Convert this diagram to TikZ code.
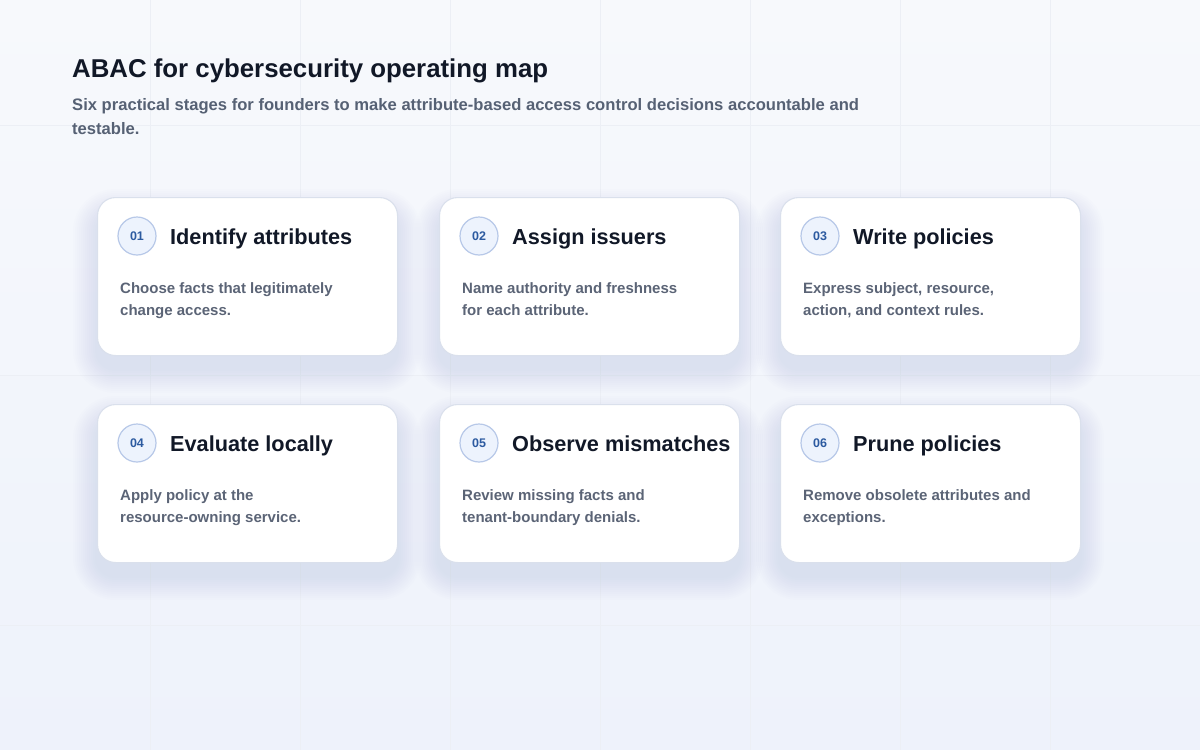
\documentclass[tikz,border=0pt]{standalone}
\usepackage{fontspec}
\setmainfont{Liberation Sans}
\definecolor{bgtop}{HTML}{F7F9FC}
\definecolor{bgbot}{HTML}{EEF2FB}
\definecolor{gridc}{HTML}{ECEFF5}
\definecolor{cardborder}{HTML}{DAE0EC}
\definecolor{circfill}{HTML}{EDF3FD}
\definecolor{circborder}{HTML}{B7C8E8}
\definecolor{numtext}{HTML}{2C5AA0}
\definecolor{headtext}{HTML}{111827}
\definecolor{bodytext}{HTML}{5B6476}
\definecolor{subtext}{HTML}{566174}
\definecolor{shadowc}{HTML}{8590AA}
\tikzset{
  cardbox/.style={draw=cardborder, line width=1.1pt, fill=white, rounded corners=18pt,
    minimum width=300pt, minimum height=158pt, anchor=north west, inner sep=0pt},
  numcirc/.style={circle, draw=circborder, line width=1.2pt, fill=circfill, minimum size=38pt,
    inner sep=0pt, text=numtext, font=\bfseries\fontsize{12.5}{13}\selectfont},
  headlbl/.style={anchor=base west, inner sep=0pt, text=headtext, font=\bfseries\fontsize{21.7}{26}\selectfont},
  bodylbl/.style={anchor=base west, inner sep=0pt, text=bodytext, font=\bfseries\fontsize{15}{22}\selectfont},
}
\newcommand{\stagecard}[7]{%
  \foreach \s in {2,4,...,24}{
    \fill[shadowc, opacity=0.011, rounded corners={18pt+\s pt}]
      (#2-\s, #3+16-\s) rectangle (#2+300+\s, #3+158+14+\s);
  }
  \node[cardbox] (#1) at (#2,#3) {};
  \node[numcirc] (#1n) at (#2+40,#3+39) {#4};
  \node[headlbl] (#1h) at (#2+73,#3+47) {#5};
  \node[bodylbl] (#1a) at (#2+23,#3+96) {#6};
  \node[bodylbl] (#1b) at (#2+23,#3+118) {#7};
}
\begin{document}
\begin{tikzpicture}[x=1pt,y=-1pt]
\useasboundingbox (0,0) rectangle (1200,750);
\shade[top color=bgtop, bottom color=bgbot] (0,0) rectangle (1200,750);
\foreach \x in {150,300,...,1050} \draw[gridc, line width=0.8pt] (\x,0) -- (\x,750);
\foreach \y in {125,375,625} \draw[gridc, line width=0.8pt] (0,\y) -- (1200,\y);

\node[anchor=base west, inner sep=0pt, text=headtext, font=\bfseries\fontsize{25.8}{30}\selectfont] (title) at (72,77) {ABAC for cybersecurity operating map};
\node[anchor=base west, inner sep=0pt, text=subtext, font=\bfseries\fontsize{16.6}{24}\selectfont] (sub1) at (72,110) {Six practical stages for founders to make attribute-based access control decisions accountable and};
\node[anchor=base west, inner sep=0pt, text=subtext, font=\bfseries\fontsize{16.6}{24}\selectfont] (sub2) at (72,134) {testable.};

\stagecard{c1}{97}{197}{01}{Identify attributes}{Choose facts that legitimately}{change access.}
\stagecard{c2}{439}{197}{02}{Assign issuers}{Name authority and freshness}{for each attribute.}
\stagecard{c3}{780}{197}{03}{Write policies}{Express subject, resource,}{action, and context rules.}
\stagecard{c4}{97}{404}{04}{Evaluate locally}{Apply policy at the}{resource-owning service.}
\stagecard{c5}{439}{404}{05}{Observe mismatches}{Review missing facts and}{tenant-boundary denials.}
\stagecard{c6}{780}{404}{06}{Prune policies}{Remove obsolete attributes and}{exceptions.}
\end{tikzpicture}
\end{document}
